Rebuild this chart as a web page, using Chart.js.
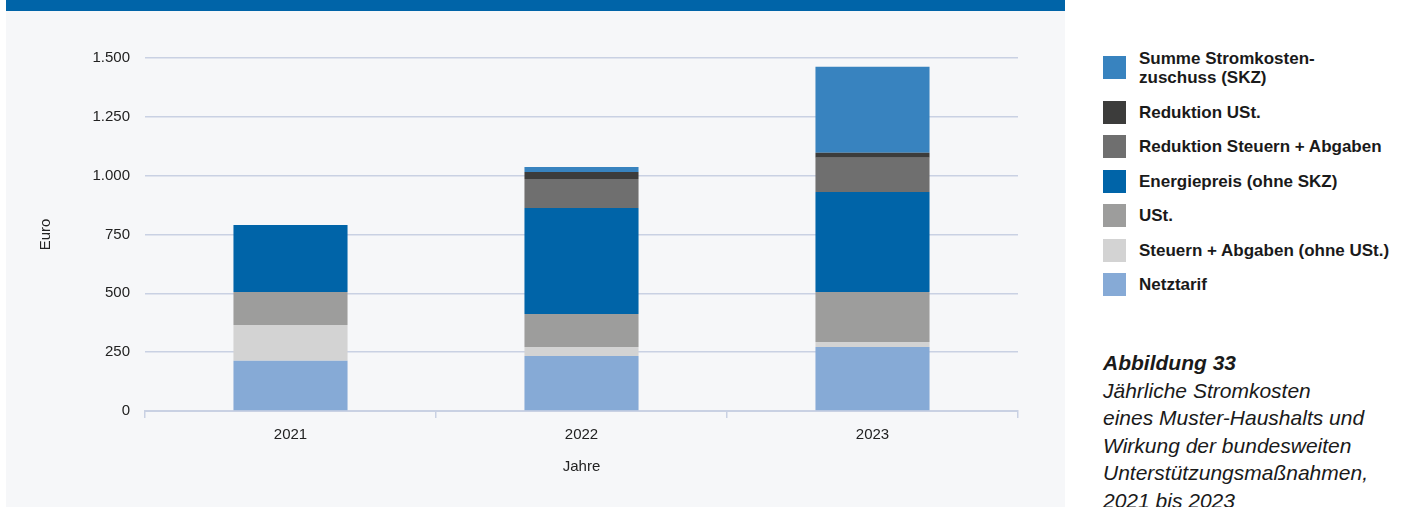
<!DOCTYPE html>
<html><head><meta charset="utf-8">
<script src="https://cdn.jsdelivr.net/npm/chart.js@4/dist/chart.umd.min.js"></script>
<style>
html,body{margin:0;padding:0;background:#fff;width:1404px;height:507px;overflow:hidden;font-family:"Liberation Sans",Arial,sans-serif;}
#hdr{position:absolute;left:6px;top:0;width:1059px;height:11px;background:#0064a8;}
#panel{position:absolute;left:6px;top:11px;width:1059px;height:496px;background:#f6f7f9;}
#cv{position:absolute;left:0;top:1px;}
#legend{position:absolute;left:1103px;top:0;}
.li{position:absolute;left:0;display:flex;align-items:center;white-space:nowrap;}
.sw{width:23px;height:23px;flex:none;}
.lt{margin-left:13px;font-weight:bold;font-size:17px;color:#1a1a1a;line-height:19px;}
#cap{position:absolute;left:1103px;top:349px;font-size:21px;line-height:27.6px;font-style:italic;color:#1a1a1a;white-space:nowrap;}
</style></head><body>
<div id="hdr"></div>
<div id="panel"><canvas id="cv" width="1059" height="495"></canvas></div>
<div id="legend"></div>
<div id="cap"><b>Abbildung 33</b><br>Jährliche Stromkosten<br>eines Muster-Haushalts und<br>Wirkung der bundesweiten<br>Unterstützungsmaßnahmen,<br>2021 bis 2023</div>
<script>
const categories = ["2021", "2022", "2023"];
const netztarif = [213, 234, 272];
const steuernAbgaben = [152, 38, 21];
const ust = [141, 140, 213];
const energiepreis = [284, 451, 425];
const reduktionSteuernAbgaben = [0, 123, 145];
const reduktionUSt = [0, 30, 21];
const skz = [0, 21, 366];
const yTicks = [0, 250, 500, 750, 1000, 1250, 1500];

const seriesNames = ["Netztarif", "Steuern + Abgaben (ohne USt.)", "USt.", "Energiepreis (ohne SKZ)", "Reduktion Steuern + Abgaben", "Reduktion USt.", "Summe Stromkosten-\nzuschuss (SKZ)"];
const seriesData = [netztarif, steuernAbgaben, ust, energiepreis, reduktionSteuernAbgaben, reduktionUSt, skz];
const seriesColors = ["#86aad6", "#d3d3d3", "#9d9d9c", "#0064a8", "#6f6f6f", "#3c3c3b", "#3883bf"];

const datasets = seriesNames.map((n, i) => ({
  label: n.replace("\n", ""), data: seriesData[i], backgroundColor: seriesColors[i],
  borderWidth: 0, barPercentage: 0.392, categoryPercentage: 1.0
}));

const gridCol = "#c9d1e3";
const tickFont = { family: "Liberation Sans", size: 15 };
new Chart(document.getElementById("cv"), {
  type: "bar",
  data: { labels: categories, datasets },
  options: {
    responsive: false, animation: false,
    layout: { padding: { left: 0, right: 47, top: 46, bottom: 0 } },
    plugins: { legend: { display: false }, tooltip: { enabled: false } },
    scales: {
      x: {
        stacked: true, offset: true,
        grid: { display: true, drawOnChartArea: false, drawTicks: true, tickLength: 7, color: gridCol, lineWidth: 1.5 },
        border: { display: true, color: gridCol, width: 2 },
        ticks: { color: "#222", font: tickFont, padding: 8 },
        title: { display: true, text: "Jahre", color: "#222", font: tickFont, padding: { top: 0, bottom: 31 } },
        afterFit: s => { s.height = 96; }
      },
      y: {
        stacked: true, min: 0, max: 1500,
        afterBuildTicks: s => { s.ticks = yTicks.map(v => ({ value: v })); },
        grid: { color: gridCol, lineWidth: 1.5, drawTicks: false },
        border: { display: false },
        ticks: { color: "#222", font: tickFont, padding: 15,
          callback: v => v.toLocaleString("de-DE") },
        title: { display: true, text: "Euro", color: "#222", font: tickFont, padding: { top: 31, bottom: 0 } },
        afterFit: s => { s.width = 139; }
      }
    }
  }
});

const lg = document.getElementById("legend");
const rowsY = [67.5, 112, 146, 181, 215, 250, 284];
for (let k = 0; k < seriesNames.length; k++) {
  const i = seriesNames.length - 1 - k;
  const d = document.createElement("div");
  d.className = "li";
  d.style.top = (rowsY[k] - (k === 0 ? 19 : 11.5)) + "px";
  d.innerHTML = '<div class="sw" style="background:' + seriesColors[i] + '"></div><div class="lt">' + seriesNames[i].replace("\n", "<br>") + '</div>';
  lg.appendChild(d);
}
</script>
</body></html>
